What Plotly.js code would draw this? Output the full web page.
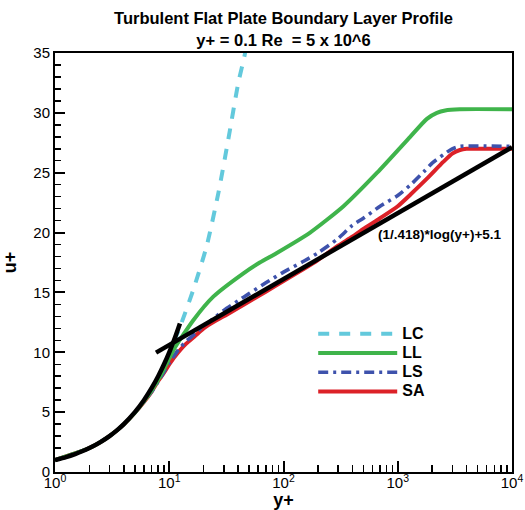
<!DOCTYPE html>
<html>
<head>
<meta charset="utf-8">
<script src="https://cdn.plot.ly/plotly-3.0.1.min.js"></script>
<style>html,body{margin:0;padding:0;background:#fff;}#chart{width:525px;height:510px;}</style>
</head>
<body>
<div id="chart"></div>
<script>
// ---- data ----
const subYPlus = [1, 1.25, 1.5, 1.75, 2, 2.5, 3, 3.5, 4, 5, 6, 7, 8, 9, 10, 11, 12, 12.4];
const subUPlus = [1, 1.25, 1.5, 1.75, 2, 2.5, 3, 3.5, 4, 5, 6, 7, 8, 9, 10, 11, 12, 12.4];

const logYPlus = [7.66, 10000];
const logUPlus = [9.97, 27.13];

const lcYPlus = [11, 12.4, 16.2, 21.3, 26.9, 32.9, 40.2, 46.1, 50];
const lcUPlus = [10.9, 12.1, 15.2, 18.9, 23.3, 27.8, 32.5, 35, 37.6];

const llYPlus = [1, 2, 3, 4, 5, 6, 7, 8, 9, 10.9, 16.3, 24.3, 44.6, 62, 87.4, 171, 335, 660, 1285, 1800, 2200, 2600, 3500, 10000];
const llUPlus = [1, 2, 3, 3.98, 4.95, 5.9, 6.8, 7.7, 8.6, 10.2, 12.7, 14.65, 16.6, 17.5, 18.3, 20.0, 22.2, 25.0, 28.0, 29.5, 30.0, 30.2, 30.3, 30.3];

const lsYPlus = [1, 2, 3, 4, 5, 6, 7, 8, 10, 12, 14, 17, 20, 25, 30, 40, 50, 70, 100, 150, 200, 300, 400, 500, 700, 1000, 1300, 1700, 2000, 2500, 3000, 3500, 10000];
const lsUPlus = [1, 2, 3, 3.98, 4.95, 5.85, 6.7, 7.55, 9.1, 10.2, 10.9, 11.6, 12.2, 12.9, 13.5, 14.3, 14.9, 15.8, 16.7, 17.6, 18.3, 19.5, 20.6, 21.2, 22.2, 23.1, 24.0, 25.1, 25.8, 26.5, 27.0, 27.2, 27.2];

const saYPlus = [1, 2, 3, 4, 5, 6, 7, 8, 9, 10, 12, 14, 17, 20, 25, 30, 40, 50, 70, 100, 150, 200, 300, 400, 500, 700, 1000, 1300, 1800, 2500, 3000, 3500, 4000, 6000, 10000];
const saUPlus = [1, 2, 3, 3.98, 4.95, 5.85, 6.7, 7.6, 8.3, 9.0, 10.0, 10.7, 11.4, 12.0, 12.6, 13.0, 13.7, 14.25, 15.05, 15.95, 16.95, 17.7, 18.9, 19.65, 20.3, 21.2, 22.2, 23.2, 24.5, 25.9, 26.6, 26.9, 27.0, 27.0, 27.0];

const seriesNames = ['LC', 'LL', 'LS', 'SA'];
const xTickVals = [1, 10, 100, 1000, 10000];
const xTickText = ['10<sup>0</sup>', '10<sup>1</sup>', '10<sup>2</sup>', '10<sup>3</sup>', '10<sup>4</sup>'];
const lawLabel = '(1/.418)*log(y+)+5.1';
const titleText = 'Turbulent Flat Plate Boundary Layer Profile<br>y+ = 0.1 Re  = 5 x 10^6';

// minor log ticks 2..9 in each decade
const xMinor = [];
for (let k = 0; k < 4; k++) for (let m = 2; m <= 9; m++) xMinor.push(m * Math.pow(10, k));

const FONT = 'Arial, "Liberation Sans", Helvetica, sans-serif';
const legName = n => '<span style="font-size:16px">' + n + '</span>';

const traces = [
  {x: saYPlus, y: saUPlus, name: legName(seriesNames[3]), legendrank: 4, mode: 'lines',
   line: {color: '#dc2128', width: 4, shape: 'spline', smoothing: 0.6}},
  {x: lsYPlus, y: lsUPlus, name: legName(seriesNames[2]), legendrank: 3, mode: 'lines',
   line: {color: '#3e52ac', width: 3.6, dash: '10px,5px,3px,5px', shape: 'spline', smoothing: 0.6}},
  {x: llYPlus, y: llUPlus, name: legName(seriesNames[1]), legendrank: 2, mode: 'lines',
   line: {color: '#3fb44b', width: 4, shape: 'spline', smoothing: 0.6}},
  {x: lcYPlus, y: lcUPlus, name: legName(seriesNames[0]), legendrank: 1, mode: 'lines',
   line: {color: '#63c9dc', width: 4, dash: '11px,10px', shape: 'spline', smoothing: 0.6}},
  {x: subYPlus, y: subUPlus, mode: 'lines', showlegend: false, hoverinfo: 'skip',
   line: {color: '#000000', width: 4.5, shape: 'spline', smoothing: 0.6}},
  {x: logYPlus, y: logUPlus, mode: 'lines', showlegend: false, hoverinfo: 'skip',
   line: {color: '#000000', width: 4.5}}
];

const layout = {
  width: 525, height: 510,
  margin: {l: 55, r: 13, t: 53, b: 38},
  paper_bgcolor: '#ffffff', plot_bgcolor: '#ffffff',
  font: {family: FONT, color: '#000000', size: 15},
  title: {
    text: titleText,
    font: {family: FONT, size: 16.5, weight: 700, color: '#000'},
    x: 0.5, xref: 'paper', xanchor: 'center',
    y: 0.952, yref: 'container', yanchor: 'top'
  },
  showlegend: true,
  legend: {
    x: 0.565, y: 0.365, xanchor: 'left', yanchor: 'top',
    bgcolor: 'rgba(0,0,0,0)', borderwidth: 0,
    font: {family: FONT, size: 12.5, weight: 700, color: '#000'},
    itemwidth: 79, tracegroupgap: 0, traceorder: 'normal'
  },
  xaxis: {
    type: 'log', range: [0, 4],
    tickmode: 'array', tickvals: xTickVals, ticktext: xTickText,
    ticks: 'inside', ticklen: 11, tickwidth: 2, tickcolor: '#000',
    ticklabelstandoff: -4,
    showline: true, linewidth: 2, linecolor: '#000', mirror: true,
    showgrid: false, zeroline: false,
    tickfont: {family: FONT, size: 15},
    minor: {tickmode: 'array', tickvals: xMinor, ticks: 'inside', ticklen: 7, tickwidth: 1.5, tickcolor: '#000', showgrid: false},
    title: {text: 'y+', font: {family: FONT, size: 18, weight: 700}, standoff: 0}
  },
  yaxis: {
    range: [0, 35], tickmode: 'linear', tick0: 0, dtick: 5,
    ticks: 'inside', ticklen: 10, tickwidth: 2, tickcolor: '#000',
    showline: true, linewidth: 2, linecolor: '#000', mirror: true,
    showgrid: false, zeroline: false,
    tickfont: {family: FONT, size: 15},
    minor: {dtick: 1, ticks: 'inside', ticklen: 6, tickwidth: 1.5, tickcolor: '#000', showgrid: false},
    title: {text: 'u+', font: {family: FONT, size: 18, weight: 700}, standoff: 12}
  },
  annotations: [{
    text: '<b>' + lawLabel + '</b>', x: 3.37, y: 19.8, xref: 'x', yref: 'y',
    showarrow: false, xanchor: 'center', yanchor: 'middle',
    font: {family: FONT, size: 13.5, color: '#000'}
  }]
};

Plotly.newPlot('chart', traces, layout, {displayModeBar: false, staticPlot: true});
</script>
</body>
</html>
